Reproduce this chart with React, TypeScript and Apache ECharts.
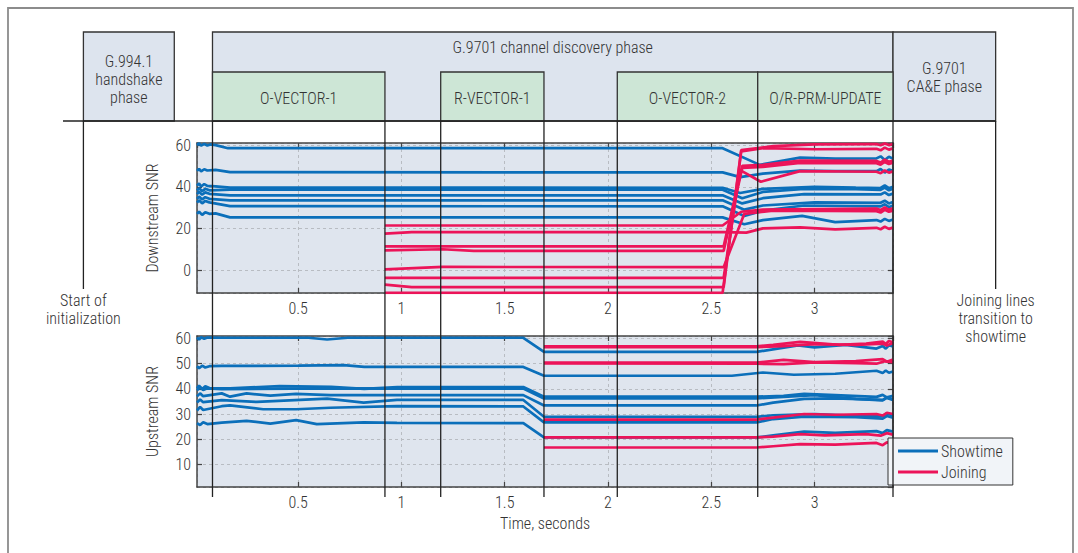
import { useEffect, useRef } from 'react';
import * as echarts from 'echarts';

type Pt = [number, number];

// ---- Downstream SNR (dB) vs time (s): lines already in showtime ----
const dsShow1: Pt[] = [[0.01, 60], [0.02, 60.8], [0.03, 59.7], [0.045, 60.6], [0.06, 59.8], [0.075, 60.3], [0.1, 60], [0.16, 58.5], [2.555, 58.5], [2.735, 50.5], [2.93, 54], [3.1, 53.5], [3.3, 53.6], [3.32, 54.6], [3.34, 52.8], [3.36, 54.4], [3.38, 53.5]];
const dsShow2: Pt[] = [[0.01, 47.6], [0.02, 48.6], [0.03, 47.4], [0.045, 48.4], [0.06, 47.8], [0.1, 48.1], [0.17, 47], [2.555, 46.9], [2.64, 44.6], [2.75, 46.3], [2.93, 47.7], [3.1, 47.5], [3.3, 47.5], [3.32, 48.5], [3.34, 46.8], [3.36, 48.2], [3.38, 47.6]];
const dsShow3: Pt[] = [[0.01, 40.5], [0.02, 41.6], [0.03, 40.1], [0.045, 41.3], [0.06, 40.4], [0.1, 40.2], [0.17, 39.6], [2.555, 39.5], [2.64, 37], [2.75, 39], [3.0, 40], [3.2, 39.6], [3.32, 39.4], [3.34, 40.6], [3.36, 39.3], [3.38, 40]];
const dsShow4: Pt[] = [[0.01, 38.2], [0.02, 39.3], [0.035, 37.9], [0.05, 39], [0.07, 38.3], [0.17, 38.6], [2.555, 38.6], [2.65, 34.5], [2.75, 37.5], [2.95, 39], [3.2, 38.8], [3.32, 38.5], [3.34, 39.6], [3.36, 38.3], [3.38, 39.1]];
const dsShow5: Pt[] = [[0.01, 36.5], [0.02, 37.6], [0.035, 36.2], [0.05, 37.3], [0.07, 36.6], [0.17, 35.9], [2.555, 35.9], [2.65, 32], [2.75, 34.5], [2.95, 36.5], [3.32, 36.3], [3.34, 37.3], [3.36, 36], [3.38, 36.7]];
const dsShow6: Pt[] = [[0.01, 34.2], [0.02, 35.3], [0.035, 33.9], [0.05, 35], [0.07, 34.2], [0.17, 33.5], [2.555, 33.5], [2.66, 29], [2.75, 31], [3.0, 32.5], [3.32, 32.3], [3.34, 33.3], [3.36, 32], [3.38, 32.7]];
const dsShow7: Pt[] = [[0.01, 32.4], [0.02, 33.5], [0.035, 32], [0.05, 33.2], [0.07, 32.5], [0.17, 30.7], [2.555, 30.6], [2.66, 26], [2.75, 28.5], [2.95, 31], [3.32, 30.6], [3.34, 31.6], [3.36, 30.2], [3.38, 31]];
const dsShow8: Pt[] = [[0.01, 27], [0.02, 28], [0.035, 26.5], [0.05, 27.8], [0.07, 27], [0.1, 27.2], [0.17, 25.3], [2.555, 25.3], [2.66, 22], [2.75, 24], [2.94, 26], [3.1, 23], [3.3, 24], [3.32, 23.3], [3.34, 24.6], [3.36, 23.6], [3.38, 24.3]];

// ---- Downstream SNR: joining lines ----
const dsJoin1: Pt[] = [[0.92, 21.4], [2.555, 21.4], [2.645, 28], [2.75, 29], [3.0, 29.3], [3.3, 29.5], [3.32, 28.8], [3.34, 30.1], [3.36, 29], [3.38, 29.6]];
const dsJoin2: Pt[] = [[0.92, 17.5], [1.05, 18.2], [2.56, 18.2], [2.67, 18], [2.75, 20], [2.93, 20.5], [3.1, 19.5], [3.3, 20.3], [3.32, 19.6], [3.34, 20.8], [3.36, 19.8], [3.38, 20.4]];
const dsJoin3: Pt[] = [[0.92, 11.4], [2.56, 11.4], [2.65, 50], [2.75, 50.5], [2.93, 52.5], [3.3, 52.4], [3.32, 51.6], [3.34, 53], [3.36, 52], [3.38, 52.6]];
const dsJoin4: Pt[] = [[0.92, 9.5], [1.2, 10], [1.35, 9.2], [2.56, 9.2], [2.65, 49], [2.75, 49.5], [2.93, 51.5], [3.3, 51.3], [3.32, 50.6], [3.34, 51.9], [3.36, 50.9], [3.38, 51.5]];
const dsJoin5: Pt[] = [[0.92, 0.3], [1.2, 1.5], [2.56, 1.4], [2.66, 27], [2.8, 28.5], [3.3, 28.3], [3.32, 27.6], [3.34, 28.9], [3.36, 28], [3.38, 28.5]];
const dsJoin6: Pt[] = [[0.92, -3.7], [2.56, -3.7], [2.64, 48], [2.74, 42.4], [2.93, 47.5], [3.3, 47.2], [3.32, 46.5], [3.34, 47.8], [3.36, 46.8], [3.38, 47.4]];
const dsJoin7: Pt[] = [[0.92, -7], [1.05, -8.2], [2.56, -8.2], [2.645, 57], [2.75, 58.5], [3.0, 58], [3.3, 58.2], [3.32, 57.5], [3.34, 58.8], [3.36, 57.8], [3.38, 58.4]];
const dsJoin8: Pt[] = [[0.92, -10.9], [2.555, -10.9], [2.645, 57.6], [2.8, 59.5], [3.0, 60.3], [3.3, 60.5], [3.32, 59.9], [3.34, 60.8], [3.36, 60], [3.38, 60.5]];

// ---- Upstream SNR (dB): lines already in showtime ----
const usShow1: Pt[] = [[0.01, 60.4], [0.02, 59.6], [0.03, 60.5], [0.045, 59.9], [0.06, 60.4], [0.13, 60.3], [0.55, 60.3], [0.64, 59.6], [0.74, 60.3], [1.59, 60.3], [1.69, 54.7], [2.72, 54.7], [2.92, 57.3], [3.0, 56.5], [3.15, 57.5], [3.3, 56], [3.33, 57], [3.345, 56], [3.36, 57.3], [3.38, 56.8]];
const usShow2: Pt[] = [[0.01, 49], [0.02, 48.2], [0.035, 49.2], [0.05, 48.5], [0.07, 49], [0.13, 49.1], [0.5, 49.2], [0.72, 49.4], [0.82, 48.7], [1.59, 48.7], [1.69, 45.2], [2.6, 45.2], [2.75, 46.5], [2.9, 45.6], [3.1, 46], [3.3, 47.2], [3.33, 46.3], [3.345, 47.3], [3.36, 46.4], [3.38, 46.9]];
const usShow3: Pt[] = [[0.01, 40.2], [0.02, 41.3], [0.035, 39.9], [0.05, 41], [0.07, 40.3], [0.17, 40.2], [0.41, 41.1], [0.66, 40.8], [0.82, 40], [0.98, 40.7], [1.59, 40.7], [1.69, 36.9], [2.72, 36.9], [2.85, 37.2], [2.95, 38], [3.1, 37.5], [3.3, 36.8], [3.33, 37.6], [3.35, 36.6], [3.38, 37.2]];
const usShow4: Pt[] = [[0.01, 39.4], [0.025, 40.6], [0.04, 39.5], [0.06, 40.2], [0.13, 39.9], [0.66, 40.2], [1.59, 40.1], [1.69, 36.2], [2.72, 36.2], [2.85, 36.8], [3.0, 37.5], [3.2, 36], [3.33, 35.4], [3.35, 36.4], [3.38, 35.6]];
const usShow5: Pt[] = [[0.01, 37], [0.025, 38.2], [0.04, 37.1], [0.13, 38.2], [0.17, 36.9], [0.25, 38.2], [0.365, 37.3], [0.49, 38], [0.655, 37.5], [1.59, 37.5], [1.69, 33.4], [2.72, 33.4], [2.8, 34.5], [2.95, 36], [3.1, 36.2], [3.33, 35.6], [3.35, 36.6], [3.38, 35.8]];
const usShow6: Pt[] = [[0.01, 34.6], [0.025, 35.8], [0.04, 34.7], [0.13, 35.5], [0.3, 34.8], [0.64, 36.1], [0.817, 34.5], [0.978, 35.6], [1.59, 35.6], [1.69, 28.9], [2.72, 28.9], [2.8, 29.5], [3.0, 30], [3.2, 29.3], [3.33, 29.2], [3.35, 30.2], [3.38, 29.4]];
const usShow7: Pt[] = [[0.01, 31.4], [0.025, 32.8], [0.04, 31.6], [0.13, 33.1], [0.17, 33.4], [0.33, 31.9], [0.49, 31.9], [0.655, 32.5], [0.978, 33.1], [1.59, 33], [1.69, 26.7], [2.72, 26.7], [2.8, 28], [2.95, 29], [3.2, 28.8], [3.33, 28.2], [3.35, 29.2], [3.38, 28.5]];
const usShow8: Pt[] = [[0.01, 26.4], [0.025, 25.6], [0.04, 26.7], [0.06, 26], [0.13, 26.6], [0.25, 27.3], [0.365, 26.2], [0.49, 27.6], [0.59, 26], [0.817, 26.7], [0.978, 26.5], [1.59, 26.4], [1.69, 20.7], [2.72, 20.7], [2.8, 21.5], [2.95, 23], [3.1, 22.5], [3.3, 23.2], [3.33, 22.4], [3.35, 23.6], [3.38, 23]];

// ---- Upstream SNR: joining lines ----
const usJoin1: Pt[] = [[1.69, 56.9], [2.72, 56.9], [2.8, 57.5], [2.93, 58.7], [3.12, 57.5], [3.25, 58], [3.33, 58.8], [3.345, 57.8], [3.36, 59], [3.38, 58.5]];
const usJoin2: Pt[] = [[1.69, 56.6], [2.72, 56.6], [2.85, 57], [3.0, 57.8], [3.2, 57.5], [3.33, 58], [3.35, 57.2], [3.38, 58.2]];
const usJoin3: Pt[] = [[1.69, 50.4], [2.72, 50.4], [2.85, 51.5], [3.0, 50.6], [3.2, 51], [3.33, 51.8], [3.35, 50.8], [3.38, 51.6]];
const usJoin4: Pt[] = [[1.69, 50.1], [2.72, 50], [2.85, 49.8], [3.0, 50.5], [3.2, 50.2], [3.3, 50], [3.34, 51], [3.38, 50.6]];
const usJoin5: Pt[] = [[1.69, 27.8], [2.72, 27.8], [2.8, 28.6], [2.95, 30], [3.1, 29.7], [3.3, 30], [3.33, 29.4], [3.35, 30.5], [3.38, 30]];
const usJoin6: Pt[] = [[1.69, 20.7], [2.72, 20.7], [2.8, 21], [2.93, 22], [3.05, 21.5], [3.25, 22], [3.32, 21.4], [3.35, 22.4], [3.38, 21.8]];
const usJoin7: Pt[] = [[1.69, 16.7], [2.72, 16.7], [2.8, 17.2], [2.93, 18], [3.1, 17.8], [3.3, 18.5], [3.33, 17.6], [3.35, 18.7], [3.38, 18.3]];

const downstreamShowtime = [dsShow1, dsShow2, dsShow3, dsShow4, dsShow5, dsShow6, dsShow7, dsShow8];
const downstreamJoining = [dsJoin1, dsJoin2, dsJoin3, dsJoin4, dsJoin5, dsJoin6, dsJoin7, dsJoin8];
const upstreamShowtime = [usShow1, usShow2, usShow3, usShow4, usShow5, usShow6, usShow7, usShow8];
const upstreamJoining = [usJoin1, usJoin2, usJoin3, usJoin4, usJoin5, usJoin6, usJoin7];

// ---- Axis ranges ----
const timeRange: Pt = [0.01, 3.38];
const downstreamRange: Pt = [-11, 61];
const upstreamRange: Pt = [1, 61];

// ---- Initialization timeline (seconds, same time base as the plots) ----
const handshakePhase = { label: 'G.994.1\nhandshake\nphase', from: -0.54, to: -0.1 };
const discoveryPhase = { label: 'G.9701 channel discovery phase', from: 0.085, to: 3.38 };
const discoverySteps = [
  { label: 'O-VECTOR-1', from: 0.085, to: 0.92 },
  { label: 'R-VECTOR-1', from: 1.19, to: 1.69 },
  { label: 'O-VECTOR-2', from: 2.045, to: 2.725 },
  { label: 'O/R-PRM-UPDATE', from: 2.725, to: 3.38 },
];
const caePhase = { label: 'G.9701\nCA&E phase', from: 3.38, to: 3.877 };
const stepBoundaries = [0.085, 0.92, 1.19, 1.69, 2.045, 2.725, 3.38];
const initStart = { label: 'Start of\ninitialization', at: -0.54 };
const joiningDone = { label: 'Joining lines\ntransition to\nshowtime', at: 3.877 };

const SHOWTIME = 'Showtime';
const JOINING = 'Joining';
const BLUE = '#0b6fba';
const RED = '#ec1459';
const INK = '#333333';
const FONT = "'Liberation Sans Narrow', 'Roboto Condensed', Roboto, sans-serif";
const WEIGHT = 300;

export default function App() {
  const ref = useRef<HTMLDivElement>(null);

  useEffect(() => {
    if (!ref.current) return;
    const chart = echarts.init(ref.current, undefined, { renderer: 'svg' });

    const grids = [
      { left: 197, top: 143, width: 696, height: 150 },
      { left: 197, top: 336, width: 696, height: 151 },
    ];

    const tickStyle = { show: true, inside: true, length: 5, lineStyle: { color: '#444', width: 1.2 } };
    const lineStyle = { show: true, onZero: false, lineStyle: { color: '#444', width: 1.5 } };
    const labelStyle = { color: INK, fontSize: 16, fontFamily: FONT, fontWeight: WEIGHT };

    const xAxes: any[] = [];
    const yAxes: any[] = [];
    [0, 1].forEach((gi) => {
      xAxes.push({
        type: 'value', gridIndex: gi, min: timeRange[0], max: timeRange[1], splitNumber: 6,
        position: 'bottom',
        axisLine: lineStyle, axisTick: tickStyle,
        axisLabel: { show: true, margin: 7, showMinLabel: false, showMaxLabel: false, ...labelStyle },
        splitLine: { show: true, lineStyle: { color: '#b8bcc2', type: [3, 3], width: 1 } },
        name: gi === 1 ? 'Time, seconds' : '',
        nameLocation: 'middle', nameGap: 28,
        nameTextStyle: labelStyle,
      });
      const range = gi === 0 ? downstreamRange : upstreamRange;
      yAxes.push({
        type: 'value', gridIndex: gi, min: range[0], max: range[1], splitNumber: gi === 0 ? 4 : 6,
        position: 'left',
        axisLine: lineStyle, axisTick: tickStyle,
        axisLabel: { show: true, margin: 6, showMinLabel: false, showMaxLabel: false, ...labelStyle },
        splitLine: { show: true, lineStyle: { color: '#b8bcc2', type: [3, 3], width: 1 } },
        name: gi === 0 ? 'Downstream SNR' : 'Upstream SNR',
        nameLocation: 'middle', nameGap: 37,
        nameTextStyle: labelStyle,
      });
    });
    // Mirror axes: top and right edges of each panel carry inward ticks only
    [0, 1].forEach((gi) => {
      xAxes.push({
        type: 'value', gridIndex: gi, min: timeRange[0], max: timeRange[1], splitNumber: 6,
        position: 'top', axisLine: lineStyle, axisTick: tickStyle,
        axisLabel: { show: false }, splitLine: { show: false },
      });
      const range = gi === 0 ? downstreamRange : upstreamRange;
      yAxes.push({
        type: 'value', gridIndex: gi, min: range[0], max: range[1], splitNumber: gi === 0 ? 4 : 6,
        position: 'right', axisLine: lineStyle, axisTick: tickStyle,
        axisLabel: { show: false }, splitLine: { show: false },
      });
    });

    const mk = (data: Pt[], name: string, color: string, gi: number) => ({
      type: 'line', name, data, xAxisIndex: gi, yAxisIndex: gi,
      symbol: 'none', showSymbol: false, silent: true,
      lineStyle: { color, width: 2.7 }, itemStyle: { color },
      emphasis: { disabled: true }, z: name === JOINING ? 3 : 2,
    });

    const series = [
      ...downstreamShowtime.map((d) => mk(d, SHOWTIME, BLUE, 0)),
      ...upstreamShowtime.map((d) => mk(d, SHOWTIME, BLUE, 1)),
      ...downstreamJoining.map((d) => mk(d, JOINING, RED, 0)),
      ...upstreamJoining.map((d) => mk(d, JOINING, RED, 1)),
    ];

    chart.setOption({
      animation: false,
      backgroundColor: '#ffffff',
      textStyle: { fontFamily: FONT, fontWeight: WEIGHT },
      grid: grids.map((g) => ({ ...g, show: true, backgroundColor: '#dfe5ee', borderWidth: 0 })),
      xAxis: xAxes,
      yAxis: yAxes,
      legend: {
        data: [SHOWTIME, JOINING], orient: 'vertical', left: 888, top: 438,
        icon: 'rect', itemWidth: 40, itemHeight: 3, itemGap: 5,
        backgroundColor: '#f1f4f8', borderColor: '#333', borderWidth: 1,
        padding: [5, 10, 5, 10],
        textStyle: { ...labelStyle, padding: [0, 0, 0, -2] },
        selectedMode: false,
      },
      series,
    });

    // Timeline overlay: phase boxes and step boundaries placed on the time axis
    const px = (t: number) => chart.convertToPixel({ xAxisIndex: 0 }, t) as number;
    const BOX_TOP = 32;
    const STEP_TOP = 72;
    const BAND = 121;
    const LINE_END = 497;
    const MARK_END = 289;
    const boxStroke = { stroke: '#333', lineWidth: 1.3 };
    const txt = (text: string, x: number, y: number, size = 16) => ({
      type: 'text', z: 120,
      style: {
        text, x, y, fill: INK, fontSize: size, fontFamily: FONT, fontWeight: WEIGHT, lineHeight: 18,
        align: 'center', verticalAlign: 'middle', textAlign: 'center', textVerticalAlign: 'middle',
      },
    });
    const vline = (x: number, y1: number, y2: number) => ({
      type: 'line', z: 110, shape: { x1: x, y1, x2: x, y2 }, style: { stroke: '#222', lineWidth: 1.3 },
    });

    const elements: any[] = [];
    elements.push({ type: 'rect', z: 1, shape: { x: 8, y: 8, width: 1065, height: 600 }, style: { fill: 'none', stroke: '#8c8c8c', lineWidth: 1.8 } });

    const hx0 = px(handshakePhase.from), hx1 = px(handshakePhase.to);
    elements.push({ type: 'rect', z: 100, shape: { x: hx0, y: BOX_TOP, width: hx1 - hx0, height: BAND - BOX_TOP }, style: { fill: '#dde4ee', ...boxStroke } });
    elements.push(txt(handshakePhase.label, (hx0 + hx1) / 2, 79));

    const dx0 = px(discoveryPhase.from), dx1 = px(discoveryPhase.to);
    elements.push({ type: 'rect', z: 100, shape: { x: dx0, y: BOX_TOP, width: dx1 - dx0, height: BAND - BOX_TOP }, style: { fill: '#dde4ee', ...boxStroke } });
    elements.push(txt(discoveryPhase.label, (dx0 + dx1) / 2, 47));

    discoverySteps.forEach((s) => {
      const a = px(s.from), b = px(s.to);
      elements.push({ type: 'rect', z: 101, shape: { x: a, y: STEP_TOP, width: b - a, height: BAND - STEP_TOP }, style: { fill: '#cde6d6', ...boxStroke } });
      elements.push(txt(s.label, (a + b) / 2, 98));
    });

    const cx0 = px(caePhase.from), cx1 = px(caePhase.to);
    elements.push({ type: 'rect', z: 100, shape: { x: cx0, y: BOX_TOP, width: cx1 - cx0, height: BAND - BOX_TOP }, style: { fill: '#dde4ee', ...boxStroke } });
    elements.push(txt(caePhase.label, (cx0 + cx1) / 2, 77));

    // Baseline under the phase boxes
    elements.push({ type: 'line', z: 110, shape: { x1: 63, y1: BAND, x2: cx1, y2: BAND }, style: { stroke: '#222', lineWidth: 1.3 } });

    stepBoundaries.forEach((t) => elements.push(vline(px(t), BAND, LINE_END)));

    const sx = px(initStart.at);
    elements.push(vline(sx, BAND, MARK_END));
    elements.push(txt(initStart.label, sx, 309));
    const jx = px(joiningDone.at);
    elements.push(vline(jx, BAND, MARK_END));
    elements.push(txt(joiningDone.label, jx, 318));

    chart.setOption({ graphic: { elements } });

    return () => chart.dispose();
  }, []);

  return (
    <div
      ref={ref}
      style={{ position: 'fixed', left: 0, top: 0, width: 1078, height: 553, background: '#fff' }}
    />
  );
}
